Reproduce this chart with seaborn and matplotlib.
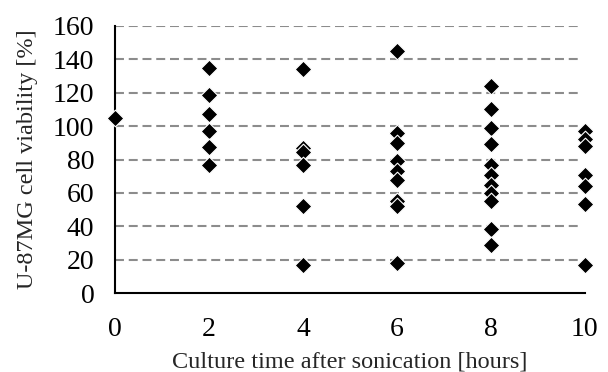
import numpy as np
import pandas as pd
import seaborn as sns
import matplotlib
matplotlib.use("Agg")
import matplotlib.pyplot as plt

# viability readings per culture time (hours after sonication)
t0 = [105]
t2 = [134.5, 118.5, 107.5, 97, 87.5, 77]
t4 = [134, 87, 84.5, 77, 52, 17]
t6 = [145, 96, 90, 79, 73, 68, 55, 52, 18]
t8 = [124, 110, 99, 89, 77, 70.5, 65, 60, 55, 38.5, 29]
t10 = [97, 92, 88, 71, 64, 53.5, 17]

times = [0, 2, 4, 6, 8, 10]
groups = [t0, t2, t4, t6, t8, t10]

rows = []
for t, vals in zip(times, groups):
    for v in vals:
        rows.append({"hours": t, "viability": v})
data = pd.DataFrame(rows)

sns.set_style("white")
plt.rcParams['font.family'] = ['Liberation Serif', 'DejaVu Serif']

fig = plt.figure(figsize=(6.08, 3.72), dpi=100)
ax = fig.add_axes([0.189, 0.2115, 0.773, 0.7194])

for y in range(20, 161, 20):
    ax.axhline(y, xmin=0, xmax=0.989, color='#8c8c8c', linestyle=(0, (4.3, 2.3)),
               linewidth=1.5, zorder=0)

sns.scatterplot(data=data, x="hours", y="viability", marker='D', color='black',
                edgecolor='white', linewidth=0.8, s=72, ax=ax, zorder=3, clip_on=False)

ax.set_xlim(0, 10)
ax.set_ylim(0, 160)
ax.set_xticks(times)
ax.set_yticks(range(0, 161, 20))
ax.tick_params(axis='both', direction='inout', length=11.5, width=1.3, labelsize=20, colors='black')
ax.tick_params(axis='x', pad=11)
ax.tick_params(axis='y', pad=9)

for side in ['top', 'right']:
    ax.spines[side].set_visible(False)
for side in ['left', 'bottom']:
    ax.spines[side].set_color('black')
    ax.spines[side].set_linewidth(1.5)

ax.set_xlabel("Culture time after sonication [hours]", fontsize=17.5, labelpad=7)
ax.set_ylabel("U-87MG cell viability [%]", fontsize=17.5, labelpad=11)

fig.savefig("out.png", dpi=100)
